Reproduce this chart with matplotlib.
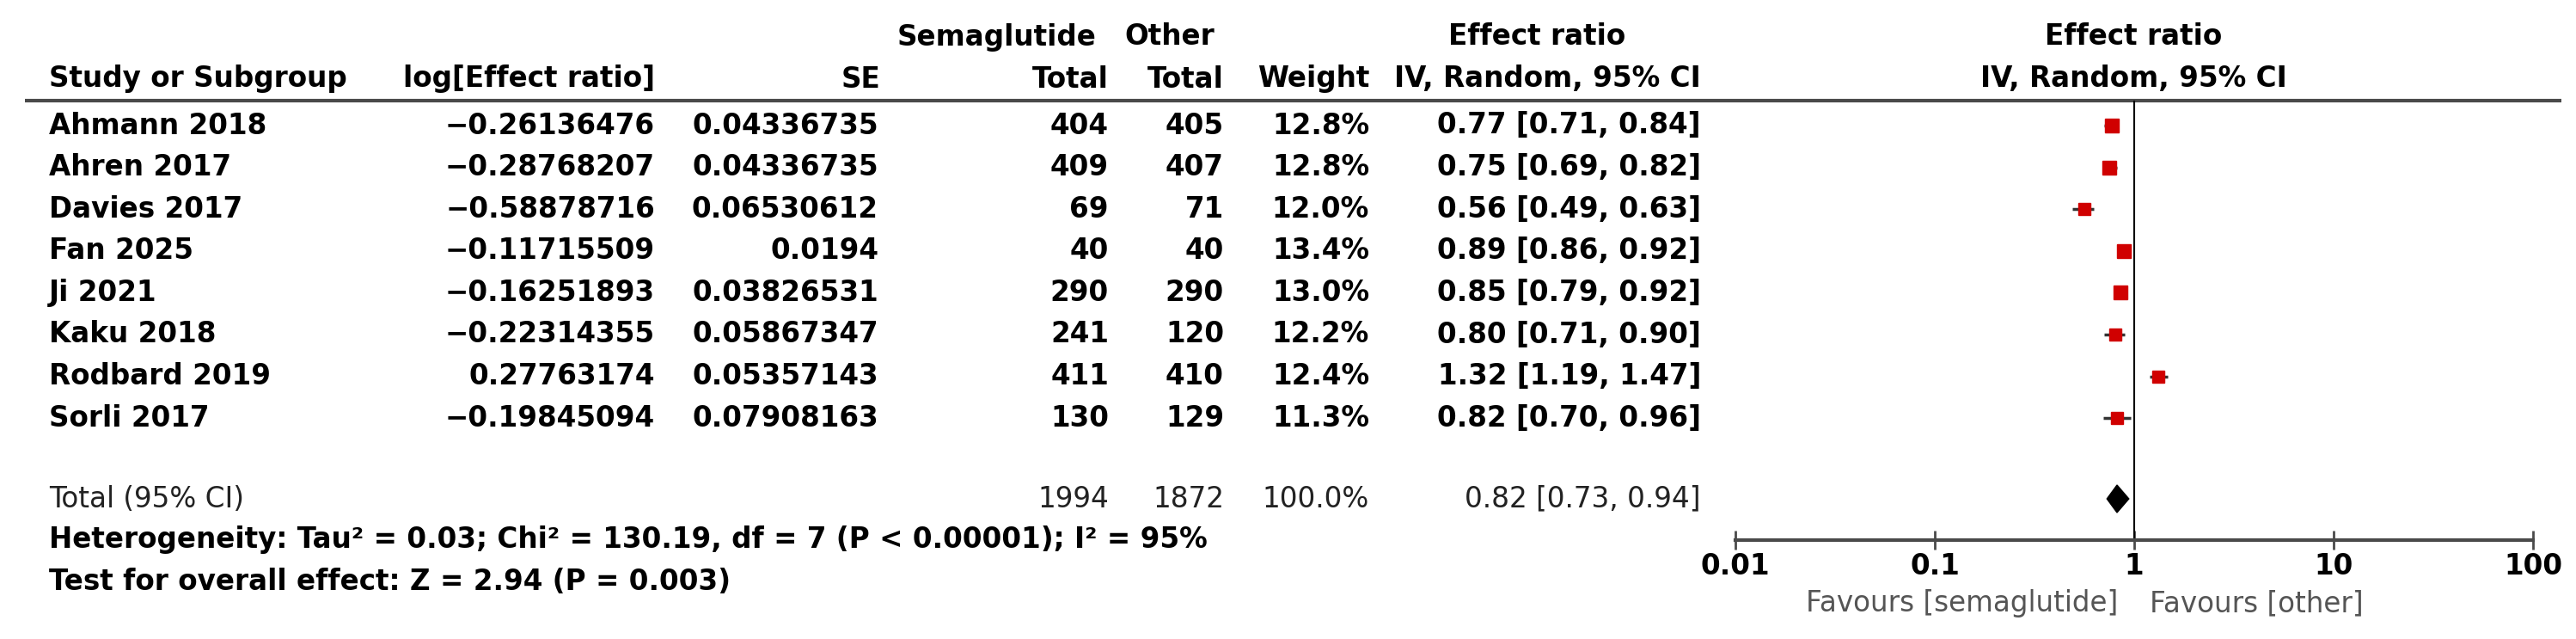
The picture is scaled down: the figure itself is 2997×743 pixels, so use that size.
import numpy as np
from matplotlib import pyplot as plt
from matplotlib.patches import Polygon

# ---- data ----
STUDIES = [
    "Ahmann 2018", "Ahren 2017", "Davies 2017", "Fan 2025",
    "Ji 2021", "Kaku 2018", "Rodbard 2019", "Sorli 2017",
]
LOG_ER = [
    -0.26136476, -0.28768207, -0.58878716, -0.11715509,
    -0.16251893, -0.22314355, 0.27763174, -0.19845094,
]
SE = [
    0.04336735, 0.04336735, 0.06530612, 0.0194,
    0.03826531, 0.05867347, 0.05357143, 0.07908163,
]
SEMA_TOTAL = [404, 409, 69, 40, 290, 241, 411, 130]
OTHER_TOTAL = [405, 407, 71, 40, 290, 120, 410, 129]
WEIGHTS = [12.8, 12.8, 12.0, 13.4, 13.0, 12.2, 12.4, 11.3]
EFFECT = [0.77, 0.75, 0.56, 0.89, 0.85, 0.80, 1.32, 0.82]
CI_LOW = [0.71, 0.69, 0.49, 0.86, 0.79, 0.71, 1.19, 0.70]
CI_HIGH = [0.84, 0.82, 0.63, 0.92, 0.92, 0.90, 1.47, 0.96]

TOTAL_SEMA, TOTAL_OTHER, TOTAL_WEIGHT = 1994, 1872, 100.0
TOTAL_EFFECT, TOTAL_LOW, TOTAL_HIGH = 0.82, 0.73, 0.94

HETEROGENEITY = "Heterogeneity: Tau² = 0.03; Chi² = 130.19, df = 7 (P < 0.00001); I² = 95%"
OVERALL = "Test for overall effect: Z = 2.94 (P = 0.003)"
X_TICKS = [0.01, 0.1, 1, 10, 100]
X_TICK_LABELS = ["0.01", "0.1", "1", "10", "100"]
FAVOURS_LEFT, FAVOURS_RIGHT = "Favours [semaglutide]", "Favours [other]"

# ---- layout (pixels) ----
W, H = 2997, 743
FS = 23.5
ROW0, ROW_STEP = 146, 48.6
TOTAL_Y, HET_Y, TEST_Y = 580, 627, 677
HEAD1_Y, HEAD2_Y, HEAD_LINE_Y = 43, 92, 117
AXIS_Y = 628
PLOT_LEFT, PLOT_RIGHT = 2019, 2947
LINE_COL = "#4a4a4a"


def fmt_num(v):
    return str(v).replace("-", "\u2212")


fig = plt.figure(figsize=(W / 100, H / 100), dpi=100)
plt.rcParams["font.family"] = ["DejaVu Sans"]

tab = fig.add_axes([0, 0, 1, 1])
tab.set_xlim(0, W)
tab.set_ylim(H, 0)
tab.axis("off")

# header
bold = dict(fontsize=FS, fontweight="bold", va="center")
tab.text(1276, HEAD1_Y, "Semaglutide", ha="right", **bold)
tab.text(1413, HEAD1_Y, "Other", ha="right", **bold)
tab.text(1788, HEAD1_Y, "Effect ratio", ha="center", **bold)
tab.text(57, HEAD2_Y, "Study or Subgroup", ha="left", **bold)
tab.text(762, HEAD2_Y, "log[Effect ratio]", ha="right", **bold)
tab.text(1024, HEAD2_Y, "SE", ha="right", **bold)
tab.text(1290, HEAD2_Y, "Total", ha="right", **bold)
tab.text(1424, HEAD2_Y, "Total", ha="right", **bold)
tab.text(1593, HEAD2_Y, "Weight", ha="right", **bold)
tab.text(1979, HEAD2_Y, "IV, Random, 95% CI", ha="right", **bold)
tab.text(2482, HEAD1_Y, "Effect ratio", ha="center", **bold)
tab.text(2482, HEAD2_Y, "IV, Random, 95% CI", ha="center", **bold)
tab.hlines(HEAD_LINE_Y, 29, 2980, color=LINE_COL, lw=3)

row_y = ROW0 + ROW_STEP * np.arange(len(STUDIES))
for i, y in enumerate(row_y):
    tab.text(57, y, STUDIES[i], ha="left", **bold)
    tab.text(762, y, fmt_num(LOG_ER[i]), ha="right", **bold)
    tab.text(1022, y, fmt_num(SE[i]), ha="right", **bold)
    tab.text(1290, y, str(SEMA_TOTAL[i]), ha="right", **bold)
    tab.text(1424, y, str(OTHER_TOTAL[i]), ha="right", **bold)
    tab.text(1593, y, f"{WEIGHTS[i]:.1f}%", ha="right", **bold)
    tab.text(1979, y, f"{EFFECT[i]:.2f} [{CI_LOW[i]:.2f}, {CI_HIGH[i]:.2f}]", ha="right", **bold)

norm = dict(fontsize=FS, va="center", color="#222222")
tab.text(57, TOTAL_Y, "Total (95% CI)", ha="left", **norm)
tab.text(1290, TOTAL_Y, str(TOTAL_SEMA), ha="right", **norm)
tab.text(1424, TOTAL_Y, str(TOTAL_OTHER), ha="right", **norm)
tab.text(1593, TOTAL_Y, f"{TOTAL_WEIGHT:.1f}%", ha="right", **norm)
tab.text(1979, TOTAL_Y, f"{TOTAL_EFFECT:.2f} [{TOTAL_LOW:.2f}, {TOTAL_HIGH:.2f}]", ha="right", **norm)
tab.text(57, HET_Y, HETEROGENEITY, ha="left", **bold)
tab.text(57, TEST_Y, OVERALL, ha="left", **bold)

# forest plot on a log axis
ax = fig.add_axes([PLOT_LEFT / W, 0, (PLOT_RIGHT - PLOT_LEFT) / W, 1])
ax.patch.set_visible(False)
ax.set_xscale("log")
ax.set_xlim(X_TICKS[0], X_TICKS[-1])
ax.set_ylim(H, 0)
for side in ("top", "left", "right"):
    ax.spines[side].set_visible(False)
ax.spines["bottom"].set_position(("data", AXIS_Y))
ax.spines["bottom"].set_color(LINE_COL)
ax.spines["bottom"].set_linewidth(3)
ax.set_yticks([])
ax.set_xticks(X_TICKS)
ax.set_xticklabels(X_TICK_LABELS, fontsize=FS, fontweight="bold")
ax.minorticks_off()
ax.tick_params(axis="x", direction="inout", length=16, width=2, color=LINE_COL, pad=2)

ax.vlines(1, HEAD_LINE_Y, AXIS_Y, color="black", lw=1.5)
ax.hlines(row_y, CI_LOW, CI_HIGH, color="#333333", lw=2.5, zorder=2)
sizes = 4.2 * np.sqrt(WEIGHTS) * 0.72
for i, y in enumerate(row_y):
    ax.plot(EFFECT[i], y, marker="s", ms=sizes[i], color="#d00000", mec="#d00000", zorder=3, clip_on=False)

half_h = 16
ax.add_patch(Polygon(
    [(TOTAL_LOW, TOTAL_Y), (TOTAL_EFFECT, TOTAL_Y - half_h),
     (TOTAL_HIGH, TOTAL_Y), (TOTAL_EFFECT, TOTAL_Y + half_h)],
    closed=True, facecolor="black", edgecolor="black", zorder=3))

# labels either side of the null line
ax.text(1 / 1.2, 702, FAVOURS_LEFT, ha="right", va="center", fontsize=FS, color="#555555")
ax.text(1.2, 702, FAVOURS_RIGHT, ha="left", va="center", fontsize=FS, color="#555555")

fig.savefig("out.png", dpi=100)
